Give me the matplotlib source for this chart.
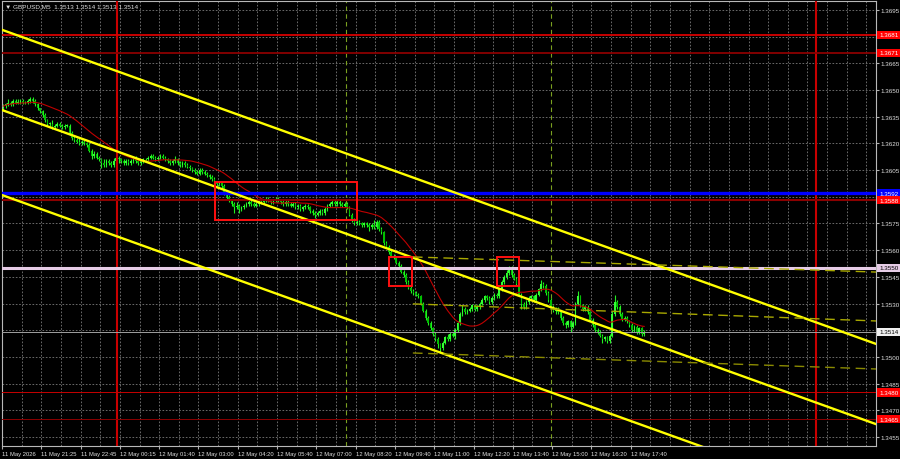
import numpy as np
import pandas as pd
import matplotlib
matplotlib.use("Agg")
import matplotlib.pyplot as plt
from matplotlib.patches import Rectangle
from matplotlib.transforms import blended_transform_factory

plt.rcParams["font.family"] = ["Liberation Sans", "DejaVu Sans"]

# GBPUSD M5, 11-12 May 2026 -- closes in pips above 1.3500, one value per bar
first_open_pips = 140
close_pips = [
    141, 142, 143, 142, 144, 143, 143, 144, 143, 143, 144, 145, 144,
    142, 140, 138, 136, 133, 131,
    131, 129, 130, 131, 130, 129, 130, 130, 126, 123,
    122, 121, 120, 121, 120, 119, 116, 113, 114, 112,
    111, 109, 108, 110, 109, 108, 110, 112, 111, 110,
    109, 110, 109, 110, 111, 110, 109, 110, 111,
    111, 112, 113, 112, 111, 112, 113, 112,
    111, 110, 109, 110, 111, 109, 108, 109, 108, 107,
    106, 105, 104, 103, 105, 104, 103, 102, 101, 100,
    98, 97, 98, 96, 92, 90, 88, 86, 84, 85, 83, 84,
    85, 86, 87, 86, 85, 86, 87,
    87, 88, 89, 88, 87, 88, 89, 88, 87, 86, 87, 86,
    85, 86, 84, 85, 83, 84, 85, 84,
    82, 81, 80, 81, 82, 81, 83, 85,
    86, 87, 86, 87, 86, 85, 86, 84,
    80, 77, 75, 76, 75, 74, 75, 74, 73, 74,
    73, 76, 72, 70, 64, 62, 59, 57, 56,
    53, 51, 48, 46, 42, 39, 37, 36, 35, 34,
    30, 26, 22, 19, 16, 13, 10, 7, 5, 8, 11,
    10, 13, 12, 15, 19, 24, 27, 25, 26,
    27, 29, 27, 28, 30, 32, 34, 33, 31, 33, 35, 34,
    38, 42, 45, 47, 50, 46, 44, 41, 35, 30, 28,
    31, 33, 34, 32, 35, 38, 41, 40, 36,
    32, 28, 26, 27, 25, 22, 19, 18, 20, 17, 19,
    30, 34, 29, 27, 28, 25, 21, 18, 15, 14,
    12, 10, 11, 9, 12, 24, 31, 28,
    24, 21, 22, 20, 18, 15, 17, 14, 16, 13, 14,
]
# wick lengths in pips beyond the body
upper_wick = [
    1, 1, 2, 1, 1, 1, 2, 1, 1, 1, 1, 1, 1,
    1, 1, 0, 1, 1, 1,
    1, 2, 1, 1, 1, 1, 1, 1, 1, 1,
    1, 1, 2, 1, 1, 1, 1, 1, 2, 1,
    1, 1, 2, 1, 1, 1, 2, 1, 1, 1,
    1, 1, 1, 1, 1, 2, 1, 1, 1,
    1, 1, 1, 1, 1, 1, 1, 1,
    1, 1, 1, 1, 2, 1, 1, 1, 1, 1,
    1, 1, 1, 1, 1, 1, 1, 1, 1, 1,
    1, 1, 1, 1, 1, 1, 1, 1, 1, 2, 1, 1,
    1, 1, 1, 1, 1, 1, 1,
    1, 1, 1, 1, 1, 1, 1, 1, 1, 1, 1, 1,
    1, 1, 1, 1, 1, 1, 1, 1,
    1, 1, 1, 1, 1, 1, 1, 1,
    1, 1, 1, 1, 1, 1, 1, 1,
    1, 1, 1, 1, 1, 1, 1, 1, 1, 1,
    3, 1, 1, 1, 1, 1, 1, 1, 1,
    1, 1, 1, 1, 1, 1, 1, 1, 1, 1,
    1, 1, 1, 1, 1, 1, 1, 1, 1, 1, 1,
    2, 1, 1, 1, 1, 1, 2, 1, 1,
    1, 1, 1, 1, 1, 1, 1, 1, 1, 1, 1, 1,
    1, 1, 1, 2, 1, 1, 1, 1, 1, 1, 1,
    1, 1, 1, 1, 1, 1, 2, 1, 1,
    1, 1, 1, 1, 1, 1, 1, 1, 1, 1, 1,
    1, 3, 1, 1, 1, 1, 1, 1, 1, 1,
    1, 1, 1, 1, 1, 2, 4, 1,
    1, 1, 1, 1, 1, 1, 1, 1, 1, 1, 1,
]
lower_wick = [
    1, 1, 1, 1, 1, 1, 1, 1, 1, 1, 1, 1, 1,
    1, 1, 1, 1, 1, 1,
    1, 1, 1, 1, 1, 1, 1, 1, 1, 1,
    1, 1, 1, 1, 1, 1, 1, 2, 1, 1,
    1, 3, 1, 1, 1, 1, 1, 1, 2, 1,
    1, 1, 1, 1, 1, 1, 1, 1, 1,
    1, 1, 1, 1, 1, 1, 1, 1,
    1, 1, 1, 1, 1, 1, 1, 1, 1, 1,
    1, 1, 1, 1, 1, 1, 1, 1, 1, 1,
    1, 1, 1, 1, 1, 1, 1, 1, 3, 1, 2, 1,
    1, 1, 1, 1, 1, 1, 1,
    1, 1, 1, 1, 1, 1, 1, 1, 1, 1, 1, 1,
    1, 1, 1, 1, 1, 1, 1, 1,
    1, 1, 2, 1, 1, 1, 1, 1,
    1, 1, 1, 1, 1, 1, 1, 1,
    1, 1, 1, 1, 1, 1, 1, 1, 2, 1,
    1, 1, 1, 1, 1, 1, 1, 1, 1,
    1, 1, 1, 1, 1, 1, 1, 1, 1, 1,
    1, 1, 1, 1, 1, 1, 1, 2, 3, 1, 1,
    1, 1, 1, 2, 1, 1, 1, 1, 1,
    1, 1, 1, 1, 1, 1, 1, 1, 1, 1, 1, 1,
    1, 1, 1, 1, 1, 1, 1, 1, 1, 3, 1,
    1, 1, 1, 1, 1, 1, 1, 1, 1,
    1, 1, 1, 2, 1, 1, 1, 2, 1, 3, 1,
    1, 1, 1, 1, 1, 1, 1, 1, 1, 1,
    1, 2, 1, 1, 1, 1, 1, 1,
    1, 1, 1, 1, 1, 1, 1, 1, 1, 1, 1,
]

time_labels = ["11 May 2026", "11 May 21:25", "11 May 22:45", "12 May 00:15",
               "12 May 01:40", "12 May 03:00", "12 May 04:20", "12 May 05:40",
               "12 May 07:00", "12 May 08:20", "12 May 09:40", "12 May 11:00",
               "12 May 12:20", "12 May 13:40", "12 May 15:00", "12 May 16:20",
               "12 May 17:40"]
price_ticks = [1.3455, 1.3470, 1.3485, 1.3500, 1.3515, 1.3530, 1.3545, 1.3560,
               1.3575, 1.3590, 1.3605, 1.3620, 1.3635, 1.3650, 1.3665, 1.3680,
               1.3695]
hidden_ticks = [1.3515, 1.3590, 1.3680]   # covered by the coloured level tags

# horizontal levels: price, line colour, width, tag colour, tag text colour
levels = [
    (1.3681, "#d80000", 1.3, "#ff0000", "white"),
    (1.3671, "#8c0000", 1.3, "#ff0000", "white"),
    (1.3592, "#0000ff", 2.4, "#0000ff", "white"),
    (1.3588, "#8c0000", 1.5, "#ff0000", "white"),
    (1.3550, "#e6cce6", 2.2, "#e6cce6", "black"),
    (1.3514, "#a0a0a0", 0.7, "#f0f0f0", "black"),
    (1.3480, "#c80000", 0.7, "#ff0000", "white"),
    (1.3465, "#8c0000", 0.7, "#ff0000", "white"),
]
red_vlines = [46.3, 330.9]
session_vlines = [139.6, 223.0]

# trend channel (bar index, price)
channel_x = [-0.5, 355.4]
channel_upper = [1.36839, 1.35073]
channel_mid = [1.36388, 1.34622]
channel_lower = [1.35910, 1.34144]
# regression channel (dashed)
reg_x = [166.8, 355.4]
reg_upper = [1.35562, 1.35477]
reg_mid = [1.35298, 1.35202]
reg_lower = [1.35022, 1.34932]

# marked zones: bar from, bar to, price low, price high
zones = [(86.2, 144.1, 1.35770, 1.35983),
         (157.1, 166.4, 1.35399, 1.35562),
         (201.0, 210.0, 1.35399, 1.35562)]

close = 1.35 + np.array(close_pips) / 10000
opens = np.r_[1.35 + first_open_pips / 10000, close[:-1]]
high = np.maximum(opens, close) + np.array(upper_wick) / 10000
low = np.minimum(opens, close) - np.array(lower_wick) / 10000
bars = np.arange(len(close))
ma = pd.Series(close).rolling(21, min_periods=1).mean()

fig = plt.figure(figsize=(9, 4.6), dpi=100, facecolor="black")
ax = fig.add_axes([2 / 900, 13 / 460, 874 / 900, 445 / 460], facecolor="black")
ax.set_xlim(-0.5, 355.4)
ax.set_ylim(1.34499, 1.37001)

# grid
for gx in np.arange(7.5, 355, 8):
    if min(abs(gx - s) for s in session_vlines) < 1.5:
        continue
    ax.axvline(gx, color="#7a7a7a", lw=0.6, ls=(0, (2, 2)), zorder=0)
for gy in price_ticks:
    ax.axhline(gy, color="#7a7a7a", lw=0.6, ls=(0, (2, 2)), zorder=0)

# candles
up = close >= opens
body = np.maximum(np.abs(close - opens), 0.00003)
ax.vlines(bars, low, high, color="#22ee22", lw=0.8, zorder=2)
ax.bar(bars[up], body[up], bottom=np.minimum(opens, close)[up], width=0.65,
       color="#33ff33", zorder=2)
ax.bar(bars[~up], body[~up], bottom=np.minimum(opens, close)[~up], width=0.65,
       color="#00c000", zorder=2)

ax.plot(bars, ma, color="#c00000", lw=0.8, zorder=3)

for x in session_vlines:
    ax.axvline(x, color="#7aa020", lw=0.8, ls=(0, (4, 3)), zorder=1)
for x in red_vlines:
    ax.axvline(x, color="#c80000", lw=1.5, zorder=4)

trans = blended_transform_factory(ax.transAxes, ax.transData)
for price, lc, lw, tag, tc in levels:
    ax.axhline(price, color=lc, lw=lw, zorder=4)
    ax.text(1.0 + 3 / 874, price, f"{price:.4f}", transform=trans, fontsize=4.5,
            color=tc, va="center", ha="left", clip_on=False, zorder=10,
            bbox=dict(boxstyle="square,pad=0.25", fc=tag, ec="none"))

for ys in (channel_upper, channel_mid, channel_lower):
    ax.plot(channel_x, ys, color="#ffff00", lw=1.7, zorder=4)
for ys, c in ((reg_upper, "#a8a800"), (reg_mid, "#a8a800"), (reg_lower, "#8a8a00")):
    ax.plot(reg_x, ys, color=c, lw=1.0, ls=(0, (7, 4)), zorder=4)

for x0, x1, y0, y1 in zones:
    ax.add_patch(Rectangle((x0, y0), x1 - x0, y1 - y0, fill=False,
                           ec="#ff1010", lw=1.4, zorder=5))

# axes
ax.set_xticks(np.arange(len(time_labels)) * 16 - 0.5)
ax.set_xticklabels(time_labels, ha="left")
ax.yaxis.tick_right()
ax.set_yticks(price_ticks)
ax.set_yticklabels(["" if p in hidden_ticks else f"{p:.4f}" for p in price_ticks])
ax.tick_params(axis="x", colors="#b0b0b0", labelcolor="#e0e0e0", labelsize=4.2,
               length=2, pad=1.5)
ax.tick_params(axis="y", colors="#b0b0b0", labelcolor="#e0e0e0", labelsize=4.5,
               length=2, pad=1.5)
for s in ax.spines.values():
    s.set_color("#b8b8b8")
    s.set_linewidth(0.8)

fig.text(5 / 900, 1 - 7 / 460, "▼ GBPUSD,M5  1.3513 1.3514 1.3513 1.3514",
         fontsize=4.6, color="#e0e0e0", va="center", ha="left")

fig.savefig("out.png", dpi=100, facecolor="black")
